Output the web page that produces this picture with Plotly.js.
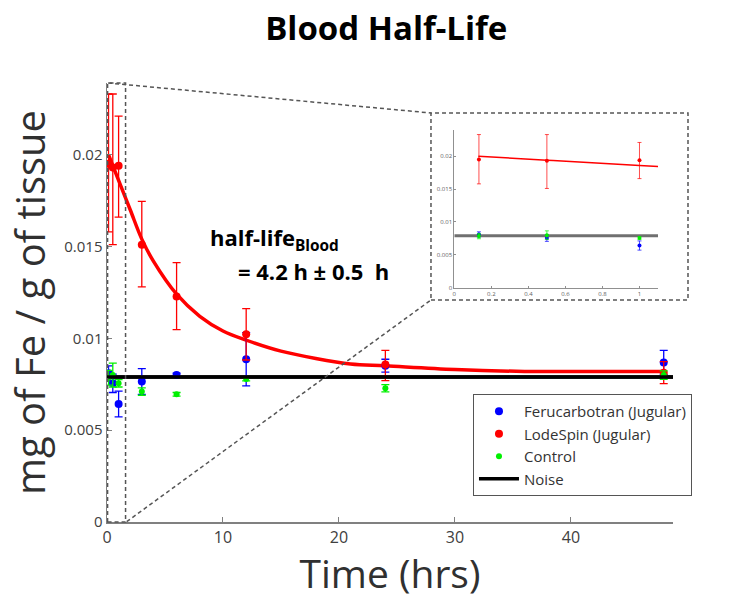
<!DOCTYPE html>
<html>
<head>
<meta charset="utf-8">
<script src="https://cdn.plot.ly/plotly-3.0.1.min.js"></script>
<style>html,body{margin:0;padding:0;background:#fff;}#chart{width:750px;height:599px;}</style>
</head>
<body>
<div id="chart"></div>
<script>
// ---- data ----
const timeHrs = [0.133, 0.5, 1, 3, 6, 12, 24, 48];

const feruVals  = [0.0081, 0.00755, 0.00642, 0.00765, 0.00800, 0.00886, 0.00851, 0.00869];
const feruErrHi = [0.0004, 0.0005, 0.0007, 0.0007, 0.0001, 0.00145, 0.00035, 0.00065];
const feruErrLo = [0.0004, 0.0005, 0.0007, 0.0007, 0.0001, 0.00145, 0.00035, 0.00065];

const lodeVals  = [0.0195, 0.0193, 0.0194, 0.0151, 0.01227, 0.01022, 0.00858, 0.00813];
const lodeErrHi = [0.0038, 0.0040, 0.0027, 0.00235, 0.00185, 0.0014, 0.00076, 0.0006];
const lodeErrLo = [0.0037, 0.0042, 0.0028, 0.0023, 0.0018, 0.0014, 0.00088, 0.0006];

const ctrlVals  = [0.00785, 0.0080, 0.00755, 0.0071, 0.00695, 0.00778, 0.00728, 0.0080];
const ctrlErrHi = [0.0004, 0.00065, 0.0002, 0.0002, 0.0001, 0.0001, 0.0002, 0.00023];
const ctrlErrLo = [0.0004, 0.00065, 0.0002, 0.0002, 0.0001, 0.0001, 0.0002, 0.00023];

// fitted exponential decay as drawn
const fitT    = [0.13, 0.5, 1, 2, 3, 4, 6, 8, 10, 12, 15, 18, 21, 24, 30, 36, 42, 48];
const fitVals = [0.0200, 0.0194, 0.0186, 0.0170, 0.0154, 0.0142, 0.0124, 0.0112, 0.0104, 0.0099, 0.0093, 0.0089, 0.0086, 0.0085, 0.0083, 0.0082, 0.0082, 0.0082];

const noiseT = [0, 48.8];
const noiseLevel = 0.0079;

const seriesNames = ['Ferucarbotran (Jugular)', 'LodeSpin (Jugular)', 'Control', 'Noise'];
const xTicks = [0, 10, 20, 30, 40];
const yTicks = [0, 0.005, 0.01, 0.015, 0.02];
const yTickText = ['0', '0.005', '0.01', '0.015', '0.02'];
const insetXTicks = [0, 0.2, 0.4, 0.6, 0.8, 1];

// ---- traces ----
function pts(vals, hi, lo, color, size, name, xa, ya, legend, ebw, capw) {
  return {
    type: 'scatter', mode: 'markers', x: timeHrs, y: vals, name: name,
    xaxis: xa, yaxis: ya, showlegend: legend,
    marker: {color: color, size: size},
    error_y: {type: 'data', symmetric: false, array: hi, arrayminus: lo,
              color: color, thickness: ebw, width: capw}
  };
}
const noiseLine = (xa, ya, color, w, legend) => ({
  type: 'scatter', mode: 'lines', x: noiseT, y: noiseT.map(() => noiseLevel),
  xaxis: xa, yaxis: ya, name: 'Noise', showlegend: legend,
  line: {color: color, width: w}
});
const fitLine = (xa, ya, w) => ({
  type: 'scatter', mode: 'lines', x: fitT, y: fitVals, xaxis: xa, yaxis: ya,
  showlegend: false, hoverinfo: 'skip', line: {color: '#ff0000', width: w, shape: 'spline'}
});

const data = [
  noiseLine('x', 'y', '#000000', 3.5, false),
  fitLine('x', 'y', 3.5),
  pts(feruVals, feruErrHi, feruErrLo, '#0000ff', 8, seriesNames[0], 'x', 'y', true, 1.3, 4),
  pts(lodeVals, lodeErrHi, lodeErrLo, '#ff0000', 8, seriesNames[1], 'x', 'y', true, 1.3, 4),
  pts(ctrlVals, ctrlErrHi, ctrlErrLo, '#00f000', 6, seriesNames[2], 'x', 'y', true, 1.3, 4),
  noiseLine('x', 'y', '#000000', 3.5, true),
  // inset
  noiseLine('x2', 'y2', '#707070', 3, false),
  fitLine('x2', 'y2', 1.5),
  pts(feruVals, feruErrHi, feruErrLo, '#0000ff', 4, seriesNames[0], 'x2', 'y2', false, 0.7, 2),
  pts(lodeVals, lodeErrHi, lodeErrLo, '#ff0000', 4, seriesNames[1], 'x2', 'y2', false, 0.7, 2),
  pts(ctrlVals, ctrlErrHi, ctrlErrLo, '#00f000', 4, seriesNames[2], 'x2', 'y2', false, 0.7, 2)
];
data[2].legendrank = 1; data[3].legendrank = 2; data[4].legendrank = 3; data[5].legendrank = 4;

const dash = {color: '#555555', width: 1.5, dash: '4px,3px'};
const layout = {
  width: 750, height: 599,
  margin: {l: 107, r: 77, t: 83, b: 77},
  paper_bgcolor: '#ffffff', plot_bgcolor: '#ffffff',
  font: {family: 'Open Sans, sans-serif', color: '#404040'},
  title: {text: '<b>Blood Half-Life</b>', x: 0.515, xanchor: 'center', y: 0.953, yanchor: 'middle',
          font: {family: 'Open Sans, sans-serif', size: 33, color: '#000000'}},
  showlegend: true,
  legend: {x: 0.6466, y: 0.2916, xanchor: 'left', yanchor: 'top', bgcolor: '#ffffff',
           bordercolor: '#555555', borderwidth: 1, font: {size: 15, color: '#333333'},
           itemwidth: 40},
  xaxis: {domain: [0, 1], range: [0, 48.8], tickvals: xTicks, ticktext: xTicks.map(String),
          showline: true, linecolor: '#808080', linewidth: 1.5, ticks: 'inside', ticklen: 5,
          tickcolor: '#808080', showgrid: false, zeroline: false,
          tickfont: {size: 16, color: '#404040'},
          title: {text: 'Time (hrs)', font: {size: 39, color: '#303030'}, standoff: 4}},
  yaxis: {domain: [0, 1], range: [0, 0.0239], tickvals: yTicks, ticktext: yTickText,
          showline: true, linecolor: '#808080', linewidth: 1.5, ticks: 'inside', ticklen: 5,
          tickcolor: '#808080', showgrid: false, zeroline: false,
          tickfont: {size: 15, color: '#404040'},
          title: {text: 'mg of Fe / g of tissue', font: {size: 40, color: '#303030'}, standoff: 6}},
  xaxis2: {domain: [0.6136, 0.9735], anchor: 'y2', range: [0, 1.1], tickvals: insetXTicks,
           ticktext: insetXTicks.map(String), showline: true, linecolor: '#909090', linewidth: 1,
           ticks: 'inside', ticklen: 2, tickcolor: '#909090', showgrid: false, zeroline: false,
           tickfont: {size: 6, color: '#606060'}},
  yaxis2: {domain: [0.5337, 0.893], anchor: 'x2', range: [0, 0.024], tickvals: yTicks,
           ticktext: yTickText, showline: true, linecolor: '#909090',
           linewidth: 1, ticks: 'inside', ticklen: 2, tickcolor: '#909090', showgrid: false,
           zeroline: false, tickfont: {size: 6, color: '#606060'}},
  shapes: [
    {type: 'rect', xref: 'x', yref: 'paper', x0: 0.05, x1: 1.6, y0: 0, y1: 1, line: dash},
    {type: 'rect', xref: 'paper', yref: 'paper', x0: 0.5724, x1: 1.0265, y0: 0.5057, y1: 0.9317, line: dash},
    {type: 'line', xref: 'paper', yref: 'paper', x0: 0.002, y0: 1, x1: 0.5724, y1: 0.9317, line: dash},
    {type: 'line', xref: 'paper', yref: 'paper', x0: 0.0348, y0: 0.0007, x1: 0.5724, y1: 0.5057, line: dash}
  ],
  annotations: [
    {xref: 'paper', yref: 'paper', x: 0.178, y: 0.645, xanchor: 'left', yanchor: 'middle', showarrow: false,
     text: '<b>half-life<sub>Blood</sub></b>', font: {size: 22, color: '#000000'}},
    {xref: 'paper', yref: 'paper', x: 0.228, y: 0.572, xanchor: 'left', yanchor: 'middle', showarrow: false,
     text: '<b>= 4.2 h ± 0.5  h</b>', font: {size: 22, color: '#000000'}}
  ]
};

Plotly.newPlot('chart', data, layout, {staticPlot: true, displayModeBar: false});
</script>
</body>
</html>
